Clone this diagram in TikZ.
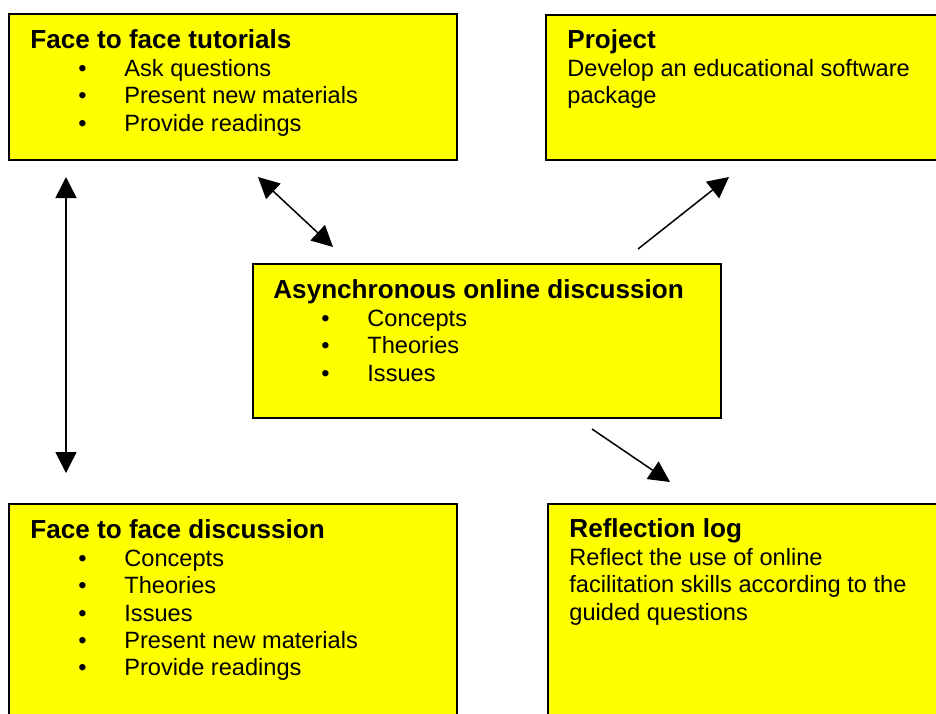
\documentclass[tikz,border=0pt]{standalone}
\usepackage{fontspec}
\setmainfont{Liberation Sans}
\usetikzlibrary{arrows.meta}
\definecolor{boxyellow}{HTML}{FFFF00}
\tikzset{
  box/.style={draw=black, line width=1pt, fill=boxyellow, rectangle, anchor=north west, inner sep=0pt},
  boxtext/.style={anchor=base west, inner sep=0pt, font=\fontsize{11.8}{13.6}\selectfont},
  link/.style={line width=0.75pt, -{Triangle[length=10.5pt,width=10.5pt]}},
  dlink/.style={line width=0.75pt, {Triangle[length=10.5pt,width=10.5pt]}-{Triangle[length=10.5pt,width=10.5pt]}}
}
\newcommand{\ttl}[1]{{\fontsize{13.05}{13.6}\selectfont\bfseries #1}}
\newcommand{\itm}[1]{\hspace*{24pt}\makebox[23pt][l]{•}#1}
\newcommand{\lines}[1]{\begin{tabular}[t]{@{}l@{}}#1\end{tabular}}
\begin{document}
\begin{tikzpicture}[x=0.5pt,y=-0.5pt]
\useasboundingbox (0,0) rectangle (936,713);
\clip (0,0) rectangle (936,713);
% boxes
\node[box, minimum width=224pt, minimum height=73pt] (tut) at (8,13) {};
\node[box, minimum width=202.5pt, minimum height=72.5pt] (proj) at (545,14) {};
\node[box, minimum width=234pt, minimum height=77pt] (async) at (252,263) {};
\node[box, minimum width=224pt, minimum height=111pt] (disc) at (8,503) {};
\node[box, minimum width=201.5pt, minimum height=111pt] (refl) at (547,503) {};
% texts
\node[boxtext] (tuttext) at (30,48) {\lines{\ttl{Face to face tutorials}\\[0.75pt]
\itm{Ask questions}\\
\itm{Present new materials}\\
\itm{Provide readings}}};
\node[boxtext] (projtext) at (567,48) {\lines{\ttl{Project}\\[0.75pt]
Develop an educational software\\
package}};
\node[boxtext] (asynctext) at (273,298) {\lines{\ttl{Asynchronous online discussion}\\[0.75pt]
\itm{Concepts}\\
\itm{Theories}\\
\itm{Issues}}};
\node[boxtext] (disctext) at (30,538) {\lines{\ttl{Face to face discussion}\\[0.75pt]
\itm{Concepts}\\
\itm{Theories}\\
\itm{Issues}\\
\itm{Present new materials}\\
\itm{Provide readings}}};
\node[boxtext] (refltext) at (569,537) {\lines{\ttl{Reflection log}\\[0.75pt]
Reflect the use of online\\
facilitation skills according to the\\
guided questions}};
% arrow ends
\coordinate (v1) at (66,177);
\coordinate (v2) at (66,473);
\coordinate (d1) at (258,177);
\coordinate (d2) at (333,247);
\coordinate (p1) at (638,249);
\coordinate (p2) at (729,177);
\coordinate (r1) at (592,429);
\coordinate (r2) at (670,482);
\draw[dlink] (v1) -- (v2);
\draw[dlink] (d1) -- (d2);
\draw[link] (p1) -- (p2);
\draw[link] (r1) -- (r2);
\end{tikzpicture}
\end{document}
